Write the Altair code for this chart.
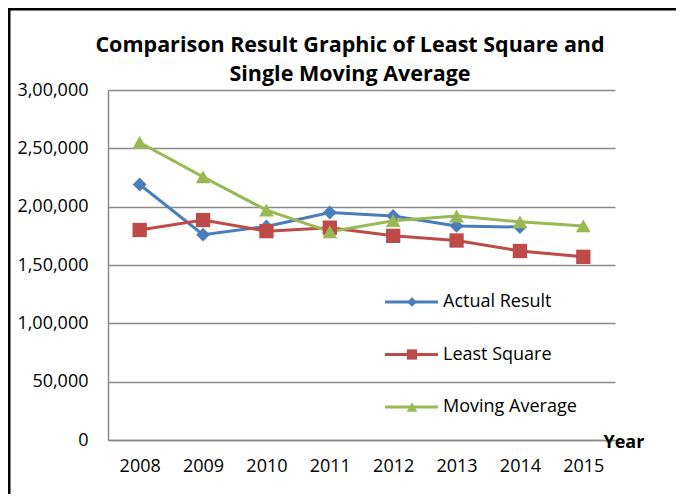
import altair as alt
import pandas as pd

years = [2008, 2009, 2010, 2011, 2012, 2013, 2014, 2015]
series_names = ["Actual Result", "Least Square", "Moving Average"]
actual = [219000, 176000, 183000, 195000, 192000, 183500, 182500, None]
least_square = [180000, 188500, 179000, 182000, 175000, 171000, 162000, 157000]
moving_avg = [255000, 225500, 197000, 178500, 188000, 192000, 187000, 183500]
y_ticks = [0, 50000, 100000, 150000, 200000, 250000, 300000]
title_lines = ["Comparison Result Graphic of Least Square and", "Single Moving Average"]

colors = ["#4a7ebb", "#be4b48", "#98b954"]
shapes = ["diamond", "square", "triangle-up"]

rows = []
for name, vals in zip(series_names, [actual, least_square, moving_avg]):
    for yr, v in zip(years, vals):
        if v is not None:
            rows.append({"year": yr, "value": v, "series": name})
df = pd.DataFrame(rows)
leg_df = pd.DataFrame({"series": series_names})

FONT = "Open Sans"
GRID = "#8a8a8a"

color_scale = alt.Scale(domain=series_names, range=colors)
shape_scale = alt.Scale(domain=series_names, range=shapes)

label_expr = ("datum.value >= 100000 ? floor(datum.value/100000) + ',' + "
              "format(floor((datum.value % 100000)/1000), '02d') + ',' + "
              "format(datum.value % 1000, '03d') : format(datum.value, ',')")

x_enc = alt.X("year:O", scale=alt.Scale(type="point", padding=0.5),
              axis=alt.Axis(title="Year", labelAngle=0, labelFontSize=18, labelFont=FONT,
                            labelColor="#000", labelPadding=17, ticks=False,
                            domainColor=GRID, domainWidth=1.5,
                            titleFont=FONT, titleFontSize=18, titleFontWeight="bold",
                            titleColor="#000", titleX=495, titleY=2,
                            titleAlign="left", titleBaseline="middle"))
y_enc = alt.Y("value:Q", scale=alt.Scale(domain=[0, 300000], nice=False),
              axis=alt.Axis(title=None, values=y_ticks, labelExpr=label_expr,
                            labelFontSize=18, labelFont=FONT, labelColor="#000",
                            labelPadding=20, ticks=False, grid=True, gridColor=GRID,
                            gridWidth=1.5, domainColor=GRID, domainWidth=1.5))

base = alt.Chart(df)
lines = base.mark_line(strokeWidth=3).encode(
    x=x_enc, y=y_enc,
    color=alt.Color("series:N", scale=color_scale, legend=None),
    detail="series:N",
)
points = base.mark_point(filled=True, opacity=1).encode(
    x=alt.X("year:O", scale=alt.Scale(type="point", padding=0.5)),
    y=alt.Y("value:Q", scale=alt.Scale(domain=[0, 300000], nice=False)),
    color=alt.Color("series:N", scale=color_scale, legend=None),
    shape=alt.Shape("series:N", scale=shape_scale, legend=None),
    size=alt.Size("series:N", scale=alt.Scale(domain=series_names, range=[190, 220, 200]), legend=None),
)
main = alt.layer(lines, points)

leg_y = alt.Y("series:N", scale=alt.Scale(type="point", domain=series_names, range=[212, 317], padding=0), axis=None)
leg_base = alt.Chart(leg_df)
leg_rule = leg_base.mark_rule(strokeWidth=3).encode(
    x=alt.value(277), x2=alt.value(330), y=leg_y,
    color=alt.Color("series:N", scale=color_scale, legend=None),
)
leg_pt = leg_base.mark_point(filled=True, opacity=1).encode(
    x=alt.value(304), y=leg_y,
    color=alt.Color("series:N", scale=color_scale, legend=None),
    shape=alt.Shape("series:N", scale=shape_scale, legend=None),
    size=alt.Size("series:N", scale=alt.Scale(domain=series_names, range=[95, 115, 125]), legend=None),
)
leg_txt = leg_base.mark_text(align="left", baseline="middle", font=FONT, fontSize=18, color="#000").encode(
    x=alt.value(335), y=leg_y, text="series:N",
)
legend = alt.layer(leg_rule, leg_pt, leg_txt)

frame_df = pd.DataFrame({"a": [0]})
title1 = alt.Chart(frame_df).mark_text(
    font=FONT, fontSize=21.5, fontWeight="bold", color="#000", align="center", baseline="middle"
).encode(x=alt.value(242), y=alt.value(-44), text=alt.value(title_lines[0]))
title2 = alt.Chart(frame_df).mark_text(
    font=FONT, fontSize=21.5, fontWeight="bold", color="#000", align="center", baseline="middle"
).encode(x=alt.value(242), y=alt.value(-15), text=alt.value(title_lines[1]))

left_border = alt.Chart(frame_df).mark_rule(color="#000", strokeWidth=3).encode(
    x=alt.value(-99), y=alt.value(-82), y2=alt.value(404))
top_border = alt.Chart(frame_df).mark_rule(color="#000", strokeWidth=3).encode(
    x=alt.value(-100), x2=alt.value(568), y=alt.value(-81))

chart = alt.layer(main, legend, title1, title2, left_border, top_border).resolve_scale(
    y="independent", size="independent"
).properties(
    width=507, height=350,
    autosize=alt.AutoSizeParams(type="none"),
    padding={"left": 100, "top": 82, "right": 61, "bottom": 54},
    background="white",
).configure_view(stroke=None)

chart.save("out.html", embed_options={"renderer": "svg", "actions": False})
